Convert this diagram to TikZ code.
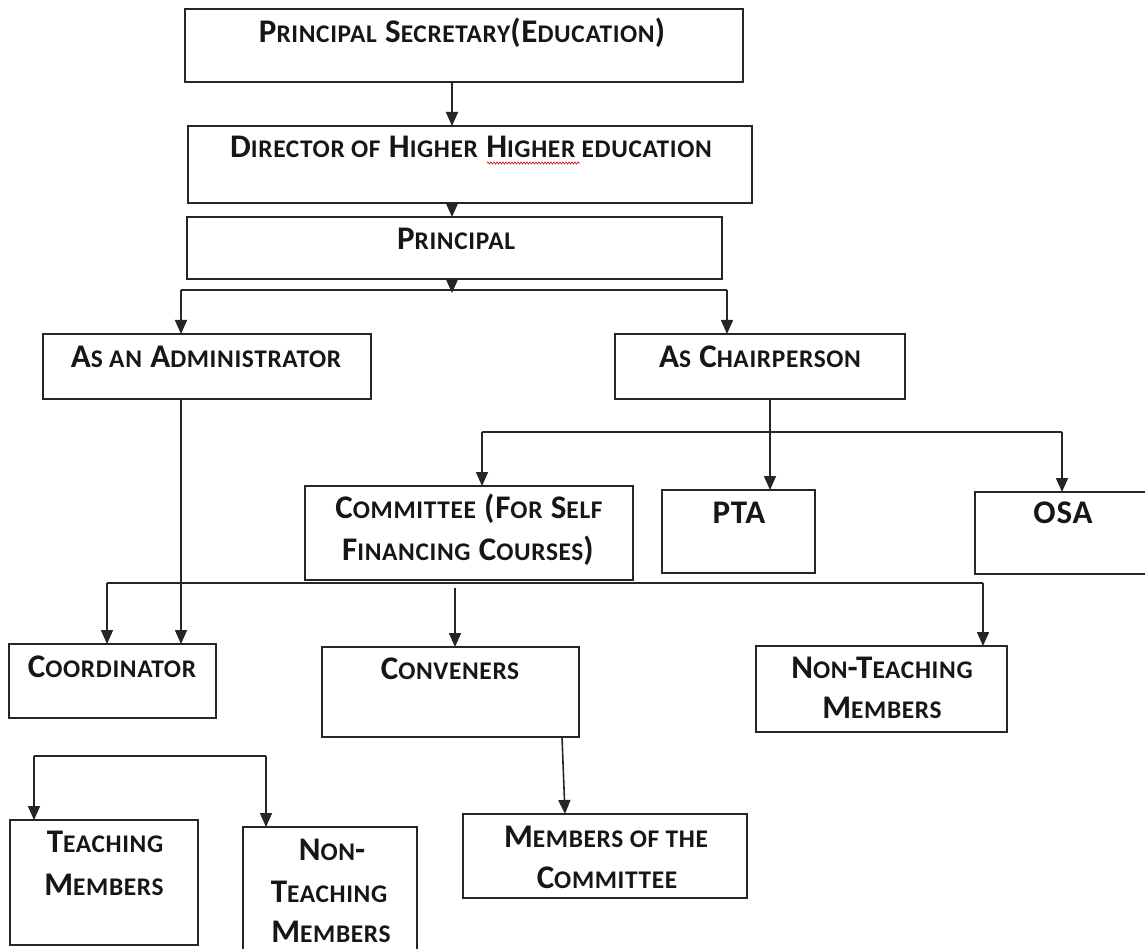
\documentclass[tikz,border=0pt]{standalone}
\usepackage{fontspec}
\setmainfont{Carlito}[LetterSpace=2.5]
\usetikzlibrary{arrows.meta,decorations.pathmorphing}
\definecolor{linec}{HTML}{262626}
\definecolor{txtc}{HTML}{161616}
\newcommand\lc[1]{{\fontsize{25.4pt}{30pt}\selectfont #1}}
\begin{document}
\begin{tikzpicture}[x=1pt,y=-1pt,
  box/.style={draw=linec,line width=1.6pt,inner sep=0pt,outer sep=0pt},
  txt/.style={inner sep=0pt,anchor=base,text=txtc,font=\fontsize{33pt}{38pt}\selectfont\bfseries},
  conn/.style={draw=linec,line width=1.6pt},
  arr/.style={conn,-{Triangle[length=14pt,width=12pt]}},
  squig/.style={draw=red!80!black,line width=0.6pt,decorate,decoration={snake,amplitude=1.1pt,segment length=3pt}}]
\fill[white] (0,0) rectangle (1145,949);
\useasboundingbox (0,0) rectangle (1145,949);
% boxes
\node[box,minimum width=558pt,minimum height=73pt] (ps) at (464,45.5) {};
\node[box,minimum width=564pt,minimum height=77pt] (dhe) at (470,164.5) {};
\node[box,minimum width=535pt,minimum height=62pt] (pr) at (454.5,248) {};
\node[box,minimum width=328pt,minimum height=65pt] (adm) at (207,366.5) {};
\node[box,minimum width=290pt,minimum height=65pt] (chair) at (760,366.5) {};
\node[box,minimum width=328pt,minimum height=94pt] (com) at (469,533) {};
\node[box,minimum width=153pt,minimum height=83pt] (pta) at (738.5,531.5) {};
\node[box,minimum width=175pt,minimum height=82pt] (osa) at (1062.5,533) {};
\node[box,minimum width=207pt,minimum height=74pt] (coord) at (112.5,681) {};
\node[box,minimum width=257pt,minimum height=90pt] (conv) at (450.5,692) {};
\node[box,minimum width=251pt,minimum height=86pt] (ntm) at (881.5,689) {};
\node[box,minimum width=284pt,minimum height=84pt] (mem) at (605,856) {};
\node[box,minimum width=188pt,minimum height=125pt] (teach) at (104,882.5) {};
\node[box,minimum width=174pt,minimum height=133pt] (nt2) at (330,893.5) {};
% texts
\node[txt] (tps) at (462,43) {P\lc{RINCIPAL} S\lc{ECRETARY}(E\lc{DUCATION})};
\node[txt] (tdhe) at (471,158) {D\lc{IRECTOR OF} H\lc{IGHER} H\lc{IGHER EDUCATION}};
\node[txt] (tpr) at (456,250) {P\lc{RINCIPAL}};
\node[txt] (tadm) at (206,367) {A\lc{S AN} A\lc{DMINISTRATOR}};
\node[txt] (tchair) at (760,367) {A\lc{S} C\lc{HAIRPERSON}};
\node[txt] (tcom1) at (469,518) {C\lc{OMMITTEE} (F\lc{OR} S\lc{ELF}};
\node[txt] (tcom2) at (468,560) {F\lc{INANCING} C\lc{OURSES})};
\node[txt] (tpta) at (739,523) {PTA};
\node[txt] (tosa) at (1063,523) {OSA};
\node[txt] (tcoord) at (112,677) {C\lc{OORDINATOR}};
\node[txt] (tconv) at (450,679) {C\lc{ONVENERS}};
\node[txt] (tntm1) at (882,678) {N\lc{ON}-T\lc{EACHING}};
\node[txt] (tntm2) at (882,718) {M\lc{EMBERS}};
\node[txt] (tmem1) at (606,847) {M\lc{EMBERS OF THE}};
\node[txt] (tmem2) at (607,888) {C\lc{OMMITTEE}};
\node[txt] (tteach1) at (105,852) {T\lc{EACHING}};
\node[txt] (tteach2) at (104,895) {M\lc{EMBERS}};
\node[txt] (tnt1) at (332,860) {N\lc{ON}-};
\node[txt] (tnt2) at (329,902) {T\lc{EACHING}};
\node[txt] (tnt3) at (331,942) {M\lc{EMBERS}};
\draw[squig] (487,163) -- (580,163);
% junction coordinates
\coordinate (j1) at (452,293);
\coordinate (b1L) at (181,290);
\coordinate (b1R) at (727,290);
\coordinate (c2) at (770,0);
\coordinate (b2L) at (482,432);
\coordinate (b2R) at (1062,432);
\coordinate (b3L) at (107,583);
\coordinate (b3R) at (983,583);
\coordinate (b3M) at (455,588);
\coordinate (b4L) at (34,756);
\coordinate (b4R) at (266,756);
% connectors
\draw[arr] (ps.south -| j1) -- (dhe.north -| j1);
\draw[arr] (dhe.south -| j1) -- (pr.north -| j1);
\draw[arr] (pr.south -| j1) -- (j1);
\draw[conn] (b1L) -- (b1R);
\draw[arr] (b1L) -- (b1L |- adm.north);
\draw[arr] (b1R) -- (b1R |- chair.north);
\draw[arr] (adm.south -| b1L) -- (coord.north -| b1L);
\draw[arr] (chair.south -| c2) -- (pta.north -| c2);
\draw[conn] (b2L) -- (b2R);
\draw[arr] (b2L) -- (b2L |- com.north);
\draw[arr] (b2R) -- (b2R |- osa.north);
\draw[conn] (b3L) -- (b3R);
\draw[arr] (b3L) -- (b3L |- coord.north);
\draw[arr] (b3R) -- (b3R |- ntm.north);
\draw[arr] (b3M) -- (b3M |- conv.north);
\draw[arr] ([xshift=111.5pt]conv.south) -- ([xshift=-40pt]mem.north);
\draw[conn] (b4L) -- (b4R);
\draw[arr] (b4L) -- (b4L |- teach.north);
\draw[arr] (b4R) -- (b4R |- nt2.north);
\end{tikzpicture}
\end{document}
